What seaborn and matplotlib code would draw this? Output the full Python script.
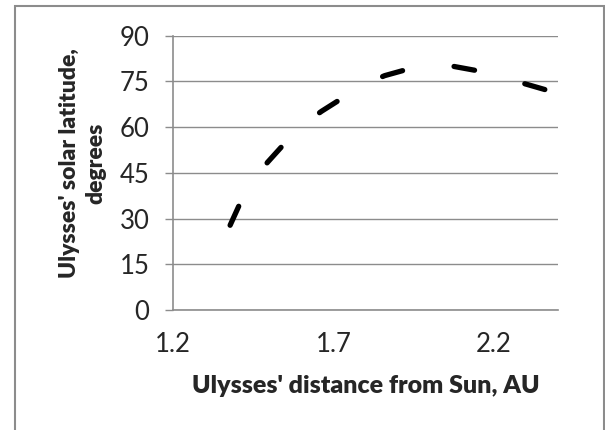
import matplotlib
matplotlib.use("Agg")
import matplotlib.pyplot as plt
import seaborn as sns
import pandas as pd
from matplotlib.patches import Rectangle

# values
distance_au = [1.378, 1.412, 1.45, 1.495, 1.55, 1.60, 1.663, 1.732, 1.79,
               1.86, 1.935, 2.00, 2.071, 2.149, 2.215, 2.281, 2.36]
latitude_deg = [27.8, 35.7, 42.5, 48.5, 54.9, 60.5, 65.2, 69.8, 73.8,
                76.9, 79.1, 80.3, 80.0, 78.5, 76.8, 74.7, 72.3]
x_ticks = [1.2, 1.7, 2.2]
y_ticks = [0, 15, 30, 45, 60, 75, 90]

sns.set_style("white")
plt.rcParams['font.family'] = ['Lato', 'DejaVu Sans']
plt.rcParams['lines.scale_dashes'] = False

df = pd.DataFrame({'dist': distance_au, 'lat': latitude_deg})

fig = plt.figure(figsize=(6.05, 4.3), dpi=100)
ax = fig.add_axes([173/605, 1-310/430, (558-173)/605, (310-35.7)/430])

sns.lineplot(data=df, x='dist', y='lat', sort=False, color='black',
             linewidth=3.8, ax=ax)
line = ax.lines[0]
line.set_dashes((15, 37.5))
line.set_dash_capstyle('round')

ax.set_xlim(1.2, 2.4)
ax.set_ylim(0, 90)
ax.set_xticks(x_ticks)
ax.set_xticklabels([f'{t:.1f}' for t in x_ticks])
ax.set_yticks(y_ticks)
ax.set_yticklabels([str(t) for t in y_ticks])

grid_c = '#8c8c8c'
ax.yaxis.grid(True, color=grid_c, linewidth=1.0)
ax.xaxis.grid(False)
for s in ['top', 'right']:
    ax.spines[s].set_visible(False)
ax.spines['left'].set_color(grid_c)
ax.spines['bottom'].set_color(grid_c)
ax.spines['left'].set_linewidth(1.2)
ax.spines['bottom'].set_linewidth(1.2)
ax.tick_params(axis='y', length=6, width=1.0, color=grid_c, left=True,
               labelsize=18.5, pad=11)
ax.tick_params(axis='x', length=0, labelsize=18.5, pad=16)

ax.set_xlabel("Ulysses' distance from Sun, AU", fontsize=18,
              fontweight='heavy', labelpad=13)
ax.set_ylabel("Ulysses' solar latitude,\ndegrees", fontsize=16.5,
              fontweight='heavy', linespacing=1.35)
ax.yaxis.label.set_va('center')
ax.yaxis.set_label_coords(-0.235, 0.534)

fig.add_artist(Rectangle((15/605, -0.1), (604-15)/605, 1.1 - 6/430,
                         transform=fig.transFigure, fill=False,
                         edgecolor='#8c8c8c', linewidth=1.5))

fig.savefig('out.png', dpi=100)
